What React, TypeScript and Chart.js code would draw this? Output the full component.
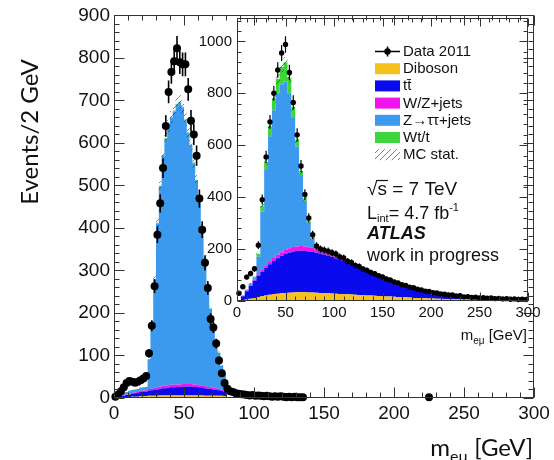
import React, { useEffect, useRef } from "react";
import { Chart, registerables } from "chart.js";

Chart.register(...registerables);

// ---------- main plot: e-mu invariant mass, 2 GeV bins from 0 GeV ----------
const MAIN_BIN_GEV = 2;
const mainDiboson = [0, 0, 1, 1, 2, 2, 3, 3, 3, 4, 4, 4, 5, 5, 5, 5, 6, 6, 6, 6, 6, 6, 6, 6, 6, 6, 6, 6, 6, 6, 6, 6, 5, 5, 5, 5, 5, 5, 5, 4, 0, 0];
const mainTtbar = [0, 1, 3, 4, 5, 6, 7, 8, 9, 10, 10, 11, 12, 13, 14, 15, 16, 17, 17, 18, 19, 19, 20, 20, 21, 21, 21, 21, 20, 20, 19, 19, 18, 17, 16, 15, 14, 13, 12, 10, 0, 0];
const mainWZjets = [0, 0, 1, 1, 1, 2, 2, 2, 2, 3, 3, 3, 4, 4, 5, 5, 5, 6, 6, 6, 6, 6, 6, 6, 6, 6, 6, 6, 6, 5, 5, 5, 5, 4, 4, 4, 4, 3, 3, 3, 0, 0];
const mainZtautau = [0, 1, 3, 5, 6, 7, 7, 7, 7, 7, 8, 8, 70, 155, 255, 385, 470, 540, 580, 608, 628, 643, 658, 663, 650, 620, 590, 560, 520, 480, 430, 370, 300, 240, 185, 150, 115, 85, 55, 38, 0, 0];
const mainWtTop = [0, 0, 0, 0, 0, 0, 0, 0, 0, 0, 0, 0, 1, 1, 1, 2, 2, 2, 2, 2, 2, 2, 2, 2, 2, 2, 2, 2, 2, 2, 2, 2, 1, 1, 1, 1, 1, 1, 1, 0, 0, 0];
const mainDataCounts = [
  3, 8, 16, 25, 35, 40, 38, 36, 38, 42,
  46, 52, 105, 170, 263, 384, 458, 541, 640, 720,
  767, 792, 823, 790, 785, 785, 726, 652, 620, 570,
  469, 396, 318, 259, 186, 166, 128, 88, 58, 35,
  22, 16, 14, 11, 10, 9, 8, 7, 6, 7,
  5, 6, 5, 4, 5, 4, 3, 4, 3, 4,
  3, 2, 3, 2, 3, 2, 2, 2,
];
const mainExtraMass = [225];
const mainExtraCounts = [2];
const mainXTicks = [0, 50, 100, 150, 200, 250, 300];
const mainYTicks = [0, 100, 200, 300, 400, 500, 600, 700, 800, 900];

// ---------- inset: 4 GeV bins from 0 GeV ----------
const INSET_BIN_GEV = 4;
const insetDiboson = [
  1, 3, 6, 9, 12, 15, 18, 21, 24, 26, 28, 30, 31, 32, 33, 34, 34, 34, 33, 33,
  32, 31, 31, 30, 29, 28, 27, 27, 26, 25, 24, 23, 22, 21, 21, 20, 19, 18, 17, 17,
  16, 15, 14, 14, 13, 12, 12, 11, 11, 10, 10, 9, 9, 8, 8, 8, 7, 7, 6, 6,
  6, 6, 5, 5, 5, 5, 4, 4, 4, 4, 4, 3, 3, 3, 3,
];
const insetTtbar = [
  3, 15, 32, 49, 66, 81, 95, 107, 118, 128, 137, 144, 150, 155, 158, 159, 160, 159, 158, 156,
  154, 152, 148, 145, 141, 137, 133, 127, 121, 115, 109, 103, 97, 91, 85, 80, 75, 70, 65, 59,
  55, 51, 47, 42, 39, 36, 32, 29, 26, 24, 21, 20, 18, 17, 15, 13, 13, 11, 11, 10,
  9, 8, 8, 7, 6, 6, 6, 5, 5, 4, 4, 4, 4, 3, 3,
];
const insetWZjets = [0, 1, 2, 3, 5, 7, 9, 10, 11, 12, 13, 14, 15, 16, 17, 17, 18, 17, 16, 15, 13, 11, 9, 8, 7, 6, 5, 4, 4, 3, 3, 2, 2, 2, 1, 1];
const insetZtautau = [0, 2, 4, 6, 8, 67, 223, 367, 482, 569, 622, 647, 649, 597, 497, 385, 273, 175, 93, 36, 13, 6, 4, 2, 1];
const insetWtTop = [0, 0, 0, 1, 3, 12, 22, 30, 38, 46, 56, 66, 74, 60, 40, 25, 15, 10, 6, 4, 3, 2, 1];
const insetDataCounts = [
  30, 55, 92, 106, 124, 215, 390, 555, 690, 800,
  890, 955, 988, 880, 765, 640, 520, 410, 320, 255,
  212, 200, 196, 192, 186, 181, 170, 166, 153, 148,
  137, 133, 123, 118, 110, 105, 97, 93, 85, 81,
  73, 70, 63, 60, 53, 51, 45, 43, 38, 37,
  32, 31, 27, 26, 23, 23, 19, 20, 16, 17,
  14, 15, 12, 13, 11, 12, 9, 10, 8, 9,
  7, 8, 6, 7, 6,
];
const insetXTicks = [0, 50, 100, 150, 200, 250, 300];
const insetYTicks = [0, 200, 400, 600, 800, 1000];

// relative MC statistical uncertainty shown as the hatched band
const MC_STAT_REL = 0.022;

const COLORS = {
  diboson: "#F5C21B",
  ttbar: "#0A0AEE",
  wz: "#F014EE",
  ztt: "#3C9AEE",
  wt: "#3CD63C",
};

const legendLabels = ["Data 2011", "Diboson", "tt\u0304", "W/Z+jets", "Z\u2192\u03c4\u03c4+jets", "Wt/t", "MC stat."];
const legendColors = [null, COLORS.diboson, COLORS.ttbar, COLORS.wz, COLORS.ztt, COLORS.wt, null];

const HELV = "'Liberation Sans', Arial, 'DejaVu Sans', sans-serif";
const TITLE_FONT = "Lato, 'Liberation Sans', 'DejaVu Sans', sans-serif";
const FRAME_COLOR = "#333";

type Pt = { x: number; y: number };

// histogram outline: each bin becomes a flat top spanning its edges
const EDGE_EPS = 1e-3;
function stepOutline(values: number[], n: number, bin: number): Pt[] {
  const pts: Pt[] = [];
  for (let i = 0; i < n; i++) {
    const v = values[i] ?? 0;
    pts.push({ x: i * bin + EDGE_EPS, y: v });
    pts.push({ x: (i + 1) * bin - EDGE_EPS, y: v });
  }
  return pts;
}

function dataPoints(counts: number[], bin: number, extraX: number[] = [], extraY: number[] = []): Pt[] {
  const pts = counts.map((c, i) => ({ x: i * bin + bin / 2, y: c })).filter((p) => p.y > 0);
  extraX.forEach((x, i) => pts.push({ x, y: extraY[i] }));
  return pts;
}

function hatchPattern(ctx: CanvasRenderingContext2D) {
  const c = document.createElement("canvas");
  c.width = 6;
  c.height = 6;
  const g = c.getContext("2d")!;
  g.strokeStyle = "rgba(40,40,40,0.6)";
  g.lineWidth = 1;
  g.beginPath();
  g.moveTo(0, 6);
  g.lineTo(6, 0);
  g.moveTo(-1, 1);
  g.lineTo(1, -1);
  g.moveTo(5, 7);
  g.lineTo(7, 5);
  g.stroke();
  return ctx.createPattern(c, "repeat")!;
}

interface Component {
  label: string;
  values: number[];
  color: string;
}

interface HistSpec {
  bin: number;
  nBins: number;
  components: Component[];
  data: Pt[];
  xTicks: number[];
  yTicks: number[];
  xMax: number;
  yMax: number;
  xMinor: number;
  xMajor: number;
  yMinor: number;
  yMajor: number;
  majorLen: number;
  minorLen: number;
  tickFont: number;
  xPad: number;
  yPad: number;
  layout: { top: number; right: number; yWidth: number; xHeight: number };
  pointRadius: number;
  errWidth: number;
  annotate: (ctx: CanvasRenderingContext2D) => void;
}

function drawFrame(chart: any, s: HistSpec) {
  const { ctx, chartArea: a, scales } = chart;
  const x = scales.x;
  const y = scales.y;
  const L = Math.round(a.left) + 0.5;
  const R = Math.round(a.right) - 0.5;
  const T = Math.round(a.top) + 0.5;
  const B = Math.round(a.bottom) - 0.5;
  ctx.save();
  ctx.strokeStyle = FRAME_COLOR;
  ctx.lineWidth = 1;
  ctx.strokeRect(L, T, R - L, B - T);
  ctx.beginPath();
  const nx = Math.round(s.xMax / s.xMinor);
  for (let i = 0; i <= nx; i++) {
    const v = i * s.xMinor;
    const px = Math.round(x.getPixelForValue(v)) + 0.5;
    const len = v % s.xMajor === 0 ? s.majorLen : s.minorLen;
    ctx.moveTo(px, B);
    ctx.lineTo(px, B - len);
    ctx.moveTo(px, T);
    ctx.lineTo(px, T + len);
  }
  const ny = Math.floor(s.yMax / s.yMinor);
  for (let i = 0; i <= ny; i++) {
    const v = i * s.yMinor;
    const py = Math.round(y.getPixelForValue(v)) + 0.5;
    const len = v % s.yMajor === 0 ? s.majorLen : s.minorLen;
    ctx.moveTo(L, py);
    ctx.lineTo(L + len, py);
    ctx.moveTo(R, py);
    ctx.lineTo(R - len, py);
  }
  ctx.stroke();
  ctx.restore();
}

function histConfig(s: HistSpec): any {
  // stacked MC histogram: one filled outline per process, stacked on y
  const datasets: any[] = s.components.map((c, k) => ({
    type: "line",
    label: c.label,
    data: stepOutline(c.values, s.nBins, s.bin),
    fill: k === 0 ? "origin" : "-1",
    backgroundColor: c.color,
    borderColor: c.color,
    borderWidth: 0,
    pointRadius: 0,
    tension: 0,
    stack: "mc",
    order: 1,
  }));
  const dataIndex = datasets.length;
  datasets.push({
    type: "line",
    label: "Data 2011",
    data: s.data,
    showLine: false,
    pointRadius: s.pointRadius,
    pointBackgroundColor: "#000",
    pointBorderWidth: 0,
    stack: "data",
    order: 0,
    clip: false,
  });

  const decor = {
    id: "histDecor",
    beforeDatasetDraw(chart: any, args: any) {
      if (args.index !== dataIndex) return;
      const { ctx, chartArea: a, scales } = chart;
      const x = scales.x;
      const y = scales.y;
      // MC statistical band
      ctx.save();
      ctx.beginPath();
      ctx.rect(a.left, a.top, a.right - a.left, a.bottom - a.top);
      ctx.clip();
      ctx.fillStyle = hatchPattern(ctx);
      for (let i = 0; i < s.nBins; i++) {
        const t = s.components.reduce((acc, c) => acc + (c.values[i] ?? 0), 0);
        if (t <= 0) continue;
        const e = MC_STAT_REL * t;
        const x0 = x.getPixelForValue(i * s.bin);
        const x1 = x.getPixelForValue((i + 1) * s.bin);
        const y0 = y.getPixelForValue(t + e);
        const y1 = y.getPixelForValue(Math.max(0, t - e));
        ctx.fillRect(x0, y0, x1 - x0, y1 - y0);
      }
      ctx.restore();
      // Poisson error bars on the data
      ctx.save();
      ctx.strokeStyle = "#000";
      ctx.lineWidth = s.errWidth;
      ctx.beginPath();
      for (const p of s.data) {
        const e = Math.sqrt(p.y);
        const px = x.getPixelForValue(p.x);
        ctx.moveTo(px, y.getPixelForValue(p.y + e));
        ctx.lineTo(px, y.getPixelForValue(Math.max(0, p.y - e)));
      }
      ctx.stroke();
      ctx.restore();
    },
    afterDatasetsDraw(chart: any) {
      drawFrame(chart, s);
    },
    afterDraw(chart: any) {
      s.annotate(chart.ctx);
    },
  };

  const tickFont = { family: HELV, size: s.tickFont };
  return {
    type: "line",
    data: { datasets },
    plugins: [decor],
    options: {
      responsive: false,
      animation: false,
      events: [],
      layout: { padding: { left: 0, top: s.layout.top, right: s.layout.right, bottom: 0 } },
      plugins: { legend: { display: false }, tooltip: { enabled: false }, title: { display: false } },
      scales: {
        x: {
          type: "linear",
          min: 0,
          max: s.xMax,
          grid: { display: false, drawTicks: false },
          border: { display: false },
          afterBuildTicks: (sc: any) => {
            sc.ticks = s.xTicks.map((v) => ({ value: v }));
          },
          afterFit: (sc: any) => {
            sc.height = s.layout.xHeight;
          },
          ticks: {
            font: tickFont,
            color: "#111",
            padding: s.xPad,
            maxRotation: 0,
            autoSkip: false,
            callback: (v: any) => String(v),
          },
        },
        y: {
          type: "linear",
          stacked: true,
          min: 0,
          max: s.yMax,
          grid: { display: false, drawTicks: false },
          border: { display: false },
          afterBuildTicks: (sc: any) => {
            sc.ticks = s.yTicks.map((v) => ({ value: v }));
          },
          afterFit: (sc: any) => {
            sc.width = s.layout.yWidth;
          },
          ticks: {
            font: tickFont,
            color: "#111",
            padding: s.yPad,
            autoSkip: false,
            callback: (v: any) => String(v),
          },
        },
      },
    },
  };
}

function drawMassTitle(ctx: CanvasRenderingContext2D, right: number, baseline: number, size: number, family: string) {
  const big = `${size}px ${family}`;
  const small = `${Math.round(size * 0.66)}px ${family}`;
  ctx.font = big;
  const wm = ctx.measureText("m").width;
  const wg = ctx.measureText(" [GeV]").width;
  ctx.font = small;
  const ws = ctx.measureText("e\u03bc").width;
  let x0 = right - (wm + ws + wg);
  ctx.textAlign = "left";
  ctx.textBaseline = "alphabetic";
  ctx.font = big;
  ctx.fillText("m", x0, baseline);
  x0 += wm;
  ctx.font = small;
  ctx.fillText("e\u03bc", x0, baseline + size * 0.25);
  x0 += ws;
  ctx.font = big;
  ctx.fillText(" [GeV]", x0, baseline);
}

function annotateMain(ctx: CanvasRenderingContext2D) {
  ctx.save();
  ctx.fillStyle = "#111";
  ctx.font = `24px ${TITLE_FONT}`;
  ctx.textAlign = "center";
  ctx.textBaseline = "middle";
  ctx.translate(30, 132);
  ctx.rotate(-Math.PI / 2);
  ctx.fillText("Events/2 GeV", 0, 0);
  ctx.restore();
  ctx.save();
  ctx.fillStyle = "#111";
  drawMassTitle(ctx, 533, 456, 24, TITLE_FONT);
  ctx.restore();
}

function annotateInset(ctx: CanvasRenderingContext2D) {
  ctx.save();
  ctx.fillStyle = "#111";
  ctx.textAlign = "left";
  ctx.textBaseline = "alphabetic";

  // legend
  const boxL = 195;
  const boxW = 25;
  const textX = 223;
  legendLabels.forEach((label, i) => {
    const base = 56 + i * 17.2;
    const mid = base - 4.5;
    if (i === 0) {
      ctx.strokeStyle = "#000";
      ctx.lineWidth = 1.5;
      ctx.beginPath();
      ctx.moveTo(boxL, mid);
      ctx.lineTo(boxL + boxW, mid);
      ctx.moveTo(boxL + boxW / 2, mid - 5);
      ctx.lineTo(boxL + boxW / 2, mid + 5);
      ctx.stroke();
      ctx.fillStyle = "#000";
      ctx.beginPath();
      ctx.arc(boxL + boxW / 2, mid, 3.2, 0, Math.PI * 2);
      ctx.fill();
    } else if (legendColors[i]) {
      ctx.fillStyle = legendColors[i] as string;
      ctx.fillRect(boxL, mid - 5.5, boxW, 11);
    } else {
      ctx.fillStyle = hatchPattern(ctx);
      ctx.fillRect(boxL, mid - 5.5, boxW, 11);
    }
    ctx.fillStyle = "#111";
    ctx.font = `15px ${HELV}`;
    ctx.fillText(label, textX, base);
  });

  // centre-of-mass energy
  const tx = 187;
  ctx.font = `19px ${HELV}`;
  ctx.fillText("\u221a", tx, 195);
  const wr = ctx.measureText("\u221a").width;
  const ws = ctx.measureText("s").width;
  ctx.fillText("s = 7 TeV", tx + wr, 195);
  ctx.strokeStyle = "#111";
  ctx.lineWidth = 1.2;
  ctx.beginPath();
  ctx.moveTo(tx + wr - 1, 180.5);
  ctx.lineTo(tx + wr + ws + 1, 180.5);
  ctx.stroke();

  // integrated luminosity
  let lx = tx;
  ctx.font = `18px ${HELV}`;
  ctx.fillText("L", lx, 219);
  lx += ctx.measureText("L").width;
  ctx.font = `11px ${HELV}`;
  ctx.fillText("int", lx, 222);
  lx += ctx.measureText("int").width;
  ctx.font = `18px ${HELV}`;
  ctx.fillText("= 4.7 fb", lx, 219);
  lx += ctx.measureText("= 4.7 fb").width;
  ctx.font = `11px ${HELV}`;
  ctx.fillText("-1", lx, 211);

  ctx.font = `italic bold 18px ${HELV}`;
  ctx.fillText("ATLAS", tx, 239);
  ctx.font = `18px ${HELV}`;
  ctx.fillText("work in progress", tx, 261);

  drawMassTitle(ctx, 347, 340, 15, HELV);
  ctx.restore();
}

const mainComponents: Component[] = [
  { label: "Diboson", values: mainDiboson, color: COLORS.diboson },
  { label: "ttbar", values: mainTtbar, color: COLORS.ttbar },
  { label: "W/Z+jets", values: mainWZjets, color: COLORS.wz },
  { label: "Z->tautau+jets", values: mainZtautau, color: COLORS.ztt },
  { label: "Wt/t", values: mainWtTop, color: COLORS.wt },
];

const insetComponents: Component[] = [
  { label: "Diboson", values: insetDiboson, color: COLORS.diboson },
  { label: "ttbar", values: insetTtbar, color: COLORS.ttbar },
  { label: "W/Z+jets", values: insetWZjets, color: COLORS.wz },
  { label: "Z->tautau+jets", values: insetZtautau, color: COLORS.ztt },
  { label: "Wt/t", values: insetWtTop, color: COLORS.wt },
];

function mainSpec(): HistSpec {
  return {
    bin: MAIN_BIN_GEV,
    nBins: mainDiboson.length,
    components: mainComponents,
    data: dataPoints(mainDataCounts, MAIN_BIN_GEV, mainExtraMass, mainExtraCounts),
    xTicks: mainXTicks,
    yTicks: mainYTicks,
    xMax: 300,
    yMax: 900,
    xMinor: 10,
    xMajor: 50,
    yMinor: 20,
    yMajor: 100,
    majorLen: 10,
    minorLen: 5,
    tickFont: 19,
    xPad: 4,
    yPad: 4,
    layout: { top: 11, right: 20, yWidth: 114, xHeight: 62 },
    pointRadius: 4,
    errWidth: 1.6,
    annotate: annotateMain,
  };
}

function insetSpec(): HistSpec {
  return {
    bin: INSET_BIN_GEV,
    nBins: insetDiboson.length,
    components: insetComponents,
    data: dataPoints(insetDataCounts, INSET_BIN_GEV),
    xTicks: insetXTicks,
    yTicks: insetYTicks,
    xMax: 300,
    yMax: 1090,
    xMinor: 10,
    xMajor: 50,
    yMinor: 40,
    yMajor: 200,
    majorLen: 8,
    minorLen: 4,
    tickFont: 15,
    xPad: 3,
    yPad: 5,
    layout: { top: 18, right: 26, yWidth: 57, xHeight: 51 },
    pointRadius: 2.7,
    errWidth: 1.2,
    annotate: annotateInset,
  };
}

export default function App() {
  const mainRef = useRef<HTMLCanvasElement>(null);
  const insetRef = useRef<HTMLCanvasElement>(null);

  useEffect(() => {
    const main = new Chart(mainRef.current as HTMLCanvasElement, histConfig(mainSpec()));
    const inset = new Chart(insetRef.current as HTMLCanvasElement, histConfig(insetSpec()));
    return () => {
      main.destroy();
      inset.destroy();
    };
  }, []);

  return (
    <div style={{ position: "absolute", left: 0, top: 0, width: 554, height: 460, background: "#fff" }}>
      <canvas ref={mainRef} width={554} height={460} style={{ position: "absolute", left: 0, top: 0 }} />
      <canvas ref={insetRef} width={374} height={352} style={{ position: "absolute", left: 180, top: 0 }} />
    </div>
  );
}
